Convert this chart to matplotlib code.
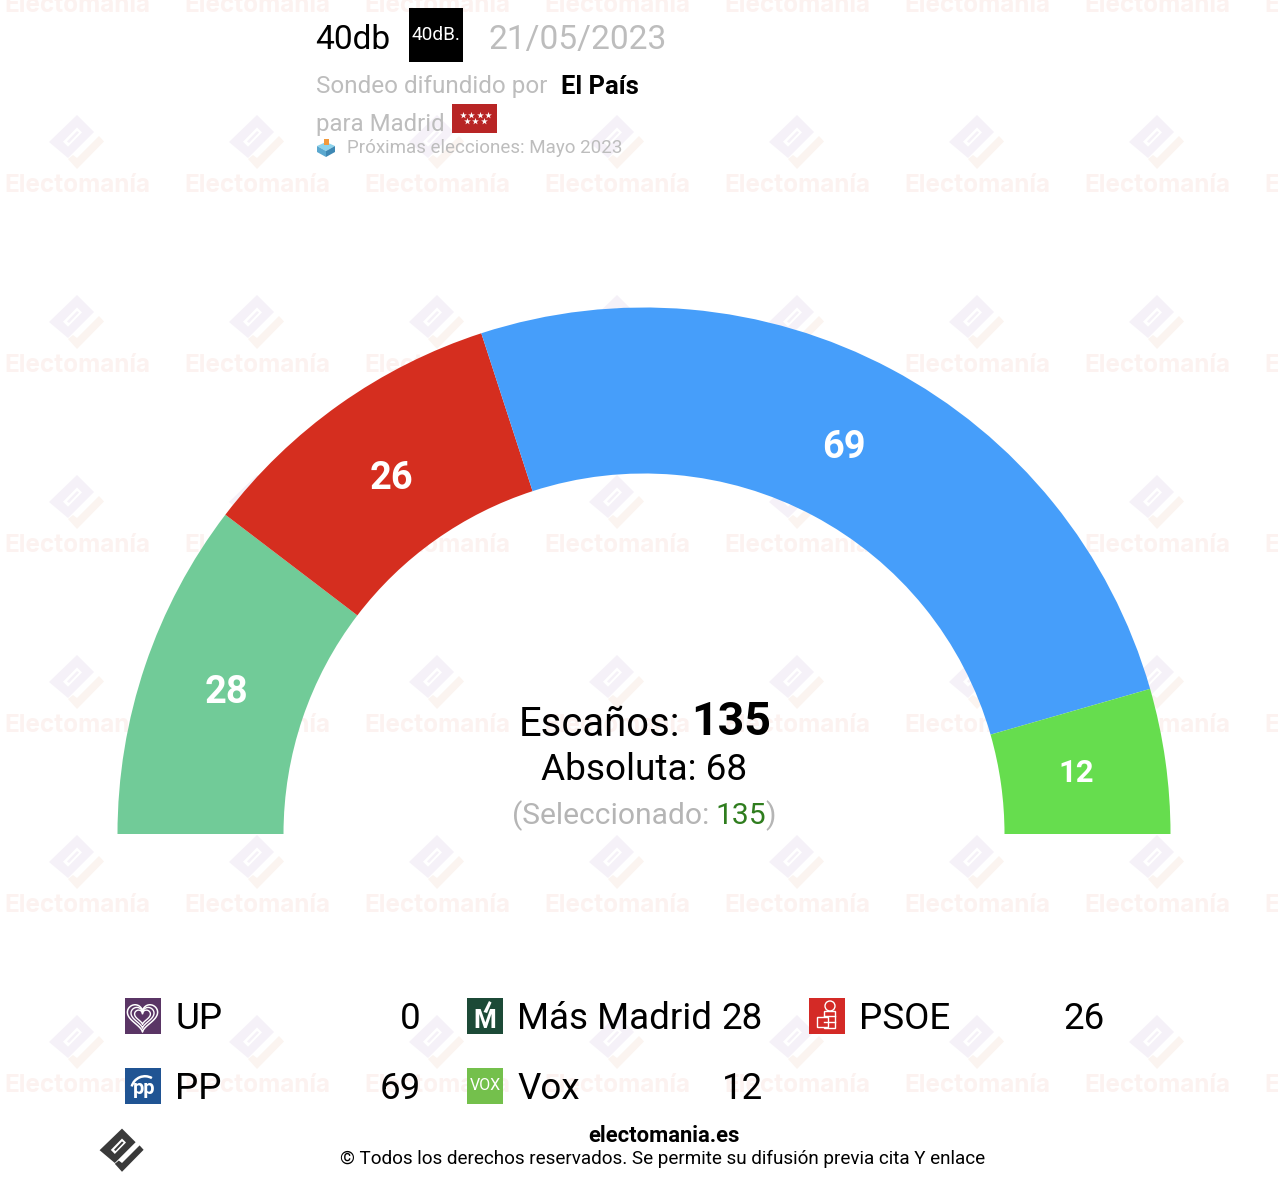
import matplotlib
matplotlib.use("Agg")
import numpy as np
import matplotlib.pyplot as plt
from matplotlib.patches import Wedge, Rectangle, Polygon, Circle

plt.rcParams['font.family'] = ['Roboto', 'DejaVu Sans']

parties = ["UP", "Más Madrid", "PSOE", "PP", "Vox"]
seats = [0, 28, 26, 69, 12]
colors = ["#5B3566", "#71CB98", "#D52E1F", "#469EFA", "#66DD4E"]
label_sizes = [0, 38, 38, 38, 31]
label_nudge = [(0, 0), (-2, -5), (1, -1), (-6, -3), (-3, -4)]
icon_colors = ["#5A3565", "#1C4A37", "#D42A26", "#205493", "#74C04C"]
total = 135
majority = 68
selected = 135

W, H = 1278, 1186
fig = plt.figure(figsize=(W / 100, H / 100), dpi=100, facecolor="white")
ax = fig.add_axes([0, 0, 1, 1])
ax.set_xlim(0, W)
ax.set_ylim(H, 0)
ax.axis("off")


def px(size):
    return size * 0.72


def T(x, y, s, size, color="black", weight="normal", ha="left", va="center", family=None, z=5, **kw):
    return ax.text(x, y + 4, s, fontsize=px(size), color=color, fontweight=weight, ha=ha, va=va,
                   family=family or ['Roboto', 'DejaVu Sans'], zorder=z, **kw)


def logo(cx, cy, s, c1, c2, hole, z):
    block = [(0, -28), (17, -11), (-9, 15), (-28, -1)]
    check = [(-9, 16), (-4, 12), (0, 15), (22, -7), (27, -1.5), (0, 26)]
    slot = [(0, -15.6), (5, -10.6), (-9, 3.7), (-14, -1.3)]
    slot2 = [(0, -12), (2, -10.5), (-8, 0), (-10, -1.5)]
    P = lambda pts: [(cx + a * s, cy + b * s) for a, b in pts]
    ax.add_patch(Polygon(P(block), closed=True, fc=c1, ec="none", zorder=z))
    ax.add_patch(Polygon(P(slot), closed=True, fc=hole, ec="none", zorder=z))
    ax.add_patch(Polygon(P(slot2), closed=True, fc=c1, ec="none", zorder=z))
    ax.add_patch(Polygon(P(check), closed=True, fc=c2, ec="none", zorder=z))


# Watermark grid
for col in range(8):
    x = 77 + 180 * col
    for row in range(7):
        T(x, 3 + 180 * row - 2, "Electomanía", 24.3, color="#FCF2F0", weight="bold",
          ha="center", family=["Inter", "DejaVu Sans"], z=1)
        if row < 6:
            logo(x, 143 + 180 * row, 1, "#F5F1F8", "#FBF4F0", "white", 1)

# Hemicycle
cx, cy, R, r = 644, 834, 526.5, 360.5
label_r = 439
acc = 0
for p, n, c, fs, nudge in zip(parties, seats, colors, label_sizes, label_nudge):
    a0 = 180 + acc / total * 180
    a1 = 180 + (acc + n) / total * 180
    if n > 0:
        ax.add_patch(Wedge((cx, cy), R, a0, a1, width=R - r, fc=c, ec="none", zorder=2))
        m = np.radians((a0 + a1) / 2)
        T(cx + label_r * np.cos(m) + nudge[0], cy + label_r * np.sin(m) + nudge[1], str(n), fs,
          color="white", weight="bold", ha="center", z=3)
    acc += n

# Centre
T(519, 720, "Escaños:", 40)
T(691, 718, str(total), 46.5, weight="bold")
T(644, 766, f"Absoluta: {majority}", 37, ha="center")
T(512, 812, "(Seleccionado:", 30, color="#B5B5B5")
T(715, 812, str(selected), 30, color="#2F7D1E")
T(765, 812, ")", 30, color="#B5B5B5")

# Header
T(315, 36, "40db", 33.5)
ax.add_patch(Rectangle((409, 8), 54, 54, fc="black", ec="none", zorder=4))
T(436, 31, "40dB.", 19, color="white", ha="center", z=5)
T(489, 36, "21/05/2023", 33.5, color="#BDBDBD")
T(316, 83, "Sondeo difundido por", 24.3, color="#BDBDBD")
T(561, 83, "El País", 25.5, weight="bold")
T(316, 120, "para Madrid", 24, color="#BDBDBD")
ax.add_patch(Rectangle((452, 104), 45, 29, fc="#B82525", ec="none", zorder=4))
sx = [463, 471, 480, 488, 467, 475, 484]
sy = [115, 115, 115, 115, 121, 121, 121]
ax.scatter(sx, sy, marker="*", s=26, color="white", linewidths=0, zorder=5)
# Ballot box
ax.add_patch(Polygon([(317, 146), (326, 142), (335, 146), (326, 151)], fc="#8CD3EC", ec="none", zorder=4))
ax.add_patch(Polygon([(317, 146), (326, 151), (326, 157), (317, 152)], fc="#5AA8CF", ec="none", zorder=4))
ax.add_patch(Polygon([(335, 146), (326, 151), (326, 157), (335, 152)], fc="#3E88B4", ec="none", zorder=4))
ax.add_patch(Rectangle((324, 139), 5, 6, fc="#F29A3C", ec="none", zorder=5))
T(347, 144, "Próximas elecciones: Mayo 2023", 18.8, color="#BDBDBD")

# Legend
col_x = [124.5, 466.5, 808.5]
val_x = [421, 763, 1105]
row_y = [997.5, 1067.5]
for i, (p, n, c) in enumerate(zip(parties, seats, icon_colors)):
    x, y = col_x[i % 3], row_y[i // 3]
    ax.add_patch(Rectangle((x, y), 36.5, 36.5, fc=c, ec="none", zorder=4))
    T(x + 50.5, y + 17.5, p, 36.8)
    T(val_x[i % 3], y + 17.5, str(n), 36.8, ha="right")
# Icon glyphs
hc = 124.5 + 18
t = np.linspace(0, 2 * np.pi, 80)
for k, lw in zip([1.05, 0.8, 0.55], [1.1, 1.0, 1.0]):
    hx = 16 * np.sin(t) ** 3 * 0.9 * k
    hy = -(13 * np.cos(t) - 5 * np.cos(2 * t) - 2 * np.cos(3 * t) - np.cos(4 * t)) * 0.9 * k
    ax.plot(hc + hx, 1016 + hy, color="white", lw=lw, zorder=5)
T(485, 1017.5, "M", 26, color="white", weight="bold", ha="center")
ax.add_patch(Polygon([(483.5, 1012), (489, 1001), (491.5, 1002.5), (487, 1013)], fc="white", ec="none", zorder=5))
# PSOE fist and rose
ax.add_patch(Circle((830, 1006), 5, fc="none", ec="white", lw=1, zorder=5))
ax.add_patch(Rectangle((824, 1011), 11, 17, fc="none", ec="white", lw=1, zorder=5))
ax.add_patch(Rectangle((817, 1017), 11, 10, fc="#D42A26", ec="white", lw=1, zorder=5))
ax.plot([824, 835], [1016, 1016], color="white", lw=1, zorder=5)
ax.plot([824, 835], [1022, 1022], color="white", lw=1, zorder=5)
T(144, 1084, "pp", 20, color="white", weight="bold", ha="center")
ax.add_patch(Wedge((145, 1090), 15, 195, 300, width=2.5, fc="white", ec="none", zorder=5))
T(485, 1082, "VOX", 16, color="white", ha="center")

# Footer
logo(122, 1151, 0.8, "#3A3A3A", "#3A3A3A", "white", 4)
T(664, 1132, "electomania.es", 22, weight="bold", ha="center")
T(663, 1155, "© Todos los derechos reservados. Se permite su difusión previa cita Y enlace", 18.9, ha="center")

fig.savefig("out.png", dpi=100)
